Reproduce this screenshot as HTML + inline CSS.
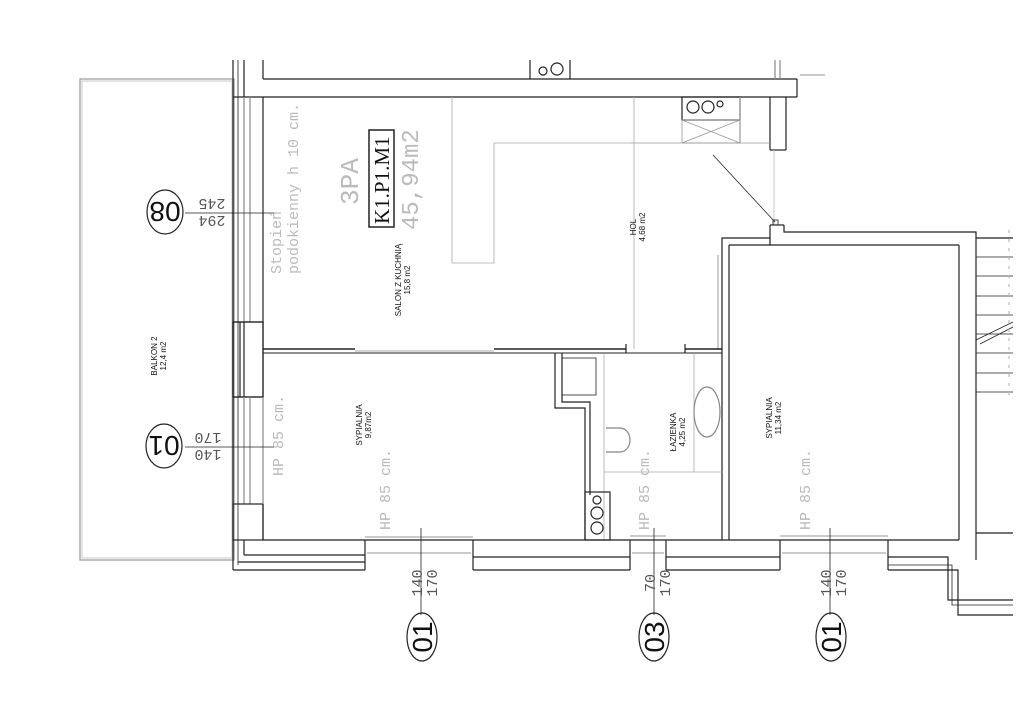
<!DOCTYPE html>
<html><head><meta charset="utf-8"><style>
html,body{margin:0;padding:0;background:#fff;}
svg{display:block;font-family:"Liberation Sans",sans-serif;}
</style></head><body>
<svg width="1024" height="724" viewBox="0 0 1024 724" xmlns="http://www.w3.org/2000/svg">
<g fill="none" stroke="#222" stroke-width="1.2">
<rect x="80" y="79" width="154" height="481" stroke="#999"/>
<rect x="82" y="81" width="150" height="477" stroke="#bbb" stroke-width="0.8"/>
<line x1="233" y1="60" x2="233" y2="570"/><line x1="238" y1="60" x2="238" y2="565" stroke-width="0.8"/><line x1="244" y1="60" x2="244" y2="97"/>
<line x1="263" y1="60" x2="263" y2="79"/>
<line x1="233" y1="97" x2="263" y2="97"/>
<line x1="244" y1="97" x2="244" y2="322" stroke="#888"/><line x1="250" y1="97" x2="250" y2="322" stroke="#888"/>
<line x1="263" y1="97" x2="263" y2="322"/>
<rect x="233" y="322" width="30" height="75" stroke-width="1.4"/>
<line x1="240" y1="322" x2="240" y2="397"/><line x1="244" y1="322" x2="244" y2="397"/>
<line x1="244" y1="397" x2="244" y2="504" stroke="#888"/><line x1="250" y1="397" x2="250" y2="504" stroke="#888"/>
<rect x="233" y="504" width="30" height="36"/>
<line x1="263" y1="397" x2="263" y2="504" stroke="#888"/>
<line x1="263" y1="504" x2="263" y2="540"/>
<line x1="263" y1="79" x2="797" y2="79"/><line x1="263" y1="97" x2="770" y2="97"/>
<line x1="797" y1="79" x2="797" y2="97"/><line x1="770" y1="97" x2="797" y2="97"/>
<line x1="770" y1="97" x2="770" y2="150"/><line x1="786" y1="97" x2="786" y2="150"/><line x1="770" y1="150" x2="786" y2="150"/>
<line x1="530" y1="60" x2="530" y2="79"/><line x1="570" y1="60" x2="570" y2="79"/>
<circle cx="543" cy="71" r="4"/><circle cx="557" cy="69" r="6"/>
<line x1="775" y1="60" x2="775" y2="79" stroke="#888"/><line x1="780" y1="60" x2="780" y2="79" stroke="#888"/>
<line x1="800" y1="75" x2="825" y2="75" stroke="#aaa"/>
<rect x="682" y="97" width="58" height="23"/>
<circle cx="693" cy="107" r="6"/><circle cx="708" cy="107" r="6"/><circle cx="720" cy="104" r="3"/>
<rect x="682" y="120" width="58" height="23" stroke="#999" stroke-width="0.8"/>
<line x1="682" y1="120" x2="740" y2="143" stroke="#999" stroke-width="0.8"/><line x1="740" y1="120" x2="682" y2="143" stroke="#999" stroke-width="0.8"/>
<line x1="740" y1="97" x2="740" y2="143" stroke="#999"/>
<line x1="630" y1="143" x2="770" y2="143" stroke="#999" stroke-width="0.8"/>
<polyline points="452,97 452,263 494,263 494,143 630,143" stroke="#aaa" stroke-width="0.8"/>
<line x1="634" y1="97" x2="634" y2="349" stroke="#aaa" stroke-width="0.8"/>
<line x1="774" y1="150" x2="774" y2="225" stroke="#bbb" stroke-width="0.8"/>
<line x1="713" y1="155" x2="775" y2="222" stroke-width="0.8"/>
<rect x="773" y="220" width="5" height="5" stroke-width="0.8"/>
<polyline points="770,225 770,238 722,238 722,540"/>
<polyline points="784,225 784,232 976,232 976,560"/>
<polyline points="770,225 784,225"/>
<line x1="729" y1="245" x2="729" y2="540"/>
<line x1="729" y1="245" x2="959" y2="245"/>
<line x1="959" y1="245" x2="959" y2="540"/>
<line x1="770" y1="238" x2="770" y2="245"/>
<line x1="718" y1="255" x2="718" y2="350" stroke="#aaa"/>
<line x1="976" y1="238" x2="1013" y2="238"/>
<line x1="976" y1="257" x2="1013" y2="257" stroke-width="0.8"/><line x1="976" y1="276" x2="1013" y2="276" stroke-width="0.8"/>
<line x1="976" y1="296" x2="1013" y2="296" stroke-width="0.8"/><line x1="976" y1="315" x2="1013" y2="315" stroke-width="0.8"/>
<line x1="976" y1="334" x2="1013" y2="334" stroke-width="0.8"/><line x1="976" y1="353" x2="1013" y2="353" stroke-width="0.8"/>
<line x1="976" y1="373" x2="1013" y2="373" stroke-width="0.8"/><line x1="976" y1="392" x2="1013" y2="392" stroke-width="0.8"/>
<line x1="976" y1="340" x2="1013" y2="322" stroke-width="0.8"/><line x1="980" y1="344" x2="1013" y2="327" stroke-width="0.8"/>
<line x1="1009" y1="230" x2="1009" y2="400" stroke="#bbb" stroke-dasharray="3 6"/>
<line x1="976" y1="533" x2="1013" y2="533"/>
<line x1="263" y1="349" x2="355" y2="349" stroke-width="1.6"/><line x1="263" y1="353" x2="722" y2="353" stroke-width="0.9"/>
<line x1="494" y1="349" x2="626" y2="349" stroke-width="1.6"/><line x1="685" y1="349" x2="722" y2="349" stroke-width="1.6"/>
<line x1="626" y1="344" x2="626" y2="353"/><line x1="685" y1="344" x2="685" y2="353"/>
<line x1="355" y1="351" x2="494" y2="351" stroke="#bbb"/>
<polyline points="555,353 555,408 585,408 585,540"/>
<polyline points="562,353 562,402 590,402 590,495"/>
<rect x="562" y="358" width="34" height="37" stroke-width="0.8"/>
<line x1="604" y1="353" x2="604" y2="540" stroke="#aaa" stroke-width="0.8"/>
<line x1="604" y1="472" x2="722" y2="472" stroke="#aaa" stroke-width="0.8"/>
<line x1="694" y1="353" x2="694" y2="472" stroke="#aaa" stroke-width="0.8"/>
<ellipse cx="707" cy="412" rx="13" ry="25" stroke="#888"/>
<path d="M606 428 h14 a10 12 0 0 1 0 24 h-14" stroke="#888"/>
<rect x="585" y="492" width="25" height="48"/>
<circle cx="597" cy="500" r="4"/><circle cx="597" cy="513" r="6"/><circle cx="597" cy="528" r="6"/>
<line x1="263" y1="540" x2="959" y2="540"/>
<line x1="244" y1="555" x2="365" y2="555"/><line x1="238" y1="562" x2="365" y2="562"/><line x1="233" y1="570" x2="365" y2="570"/>
<line x1="365" y1="540" x2="365" y2="570"/><line x1="473" y1="540" x2="473" y2="570"/>
<line x1="244" y1="540" x2="244" y2="555"/>
<line x1="367" y1="553" x2="471" y2="553" stroke="#aaa"/><line x1="365" y1="537" x2="473" y2="537" stroke="#aaa"/>
<line x1="473" y1="557" x2="630" y2="557"/><line x1="473" y1="570" x2="630" y2="570"/>
<line x1="630" y1="540" x2="630" y2="570"/><line x1="666" y1="540" x2="666" y2="570"/>
<line x1="632" y1="553" x2="664" y2="553" stroke="#aaa"/><line x1="630" y1="536" x2="666" y2="536" stroke="#aaa"/>
<line x1="666" y1="557" x2="780" y2="557"/><line x1="666" y1="570" x2="780" y2="570"/>
<line x1="780" y1="540" x2="780" y2="570"/><line x1="888" y1="540" x2="888" y2="570"/>
<line x1="782" y1="553" x2="886" y2="553" stroke="#aaa"/><line x1="780" y1="536" x2="888" y2="536" stroke="#aaa"/>
<polyline points="888,557 948,557 948,600 1013,600"/>
<polyline points="888,565 952,565 952,605 1013,605" stroke-width="0.8"/>
<polyline points="888,570 958,570 958,615 1013,615"/>
<line x1="185" y1="213" x2="275" y2="213" stroke-width="0.8"/>
<line x1="185" y1="447" x2="275" y2="447" stroke-width="0.8"/>
<line x1="421" y1="528" x2="421" y2="615" stroke-width="0.8"/>
<line x1="654" y1="528" x2="654" y2="615" stroke-width="0.8"/>
<line x1="830" y1="528" x2="830" y2="615" stroke-width="0.8"/>
<ellipse cx="165" cy="212" rx="18" ry="22"/>
<ellipse cx="164" cy="446" rx="18" ry="22"/>
<ellipse cx="422" cy="637" rx="15" ry="24"/>
<ellipse cx="654" cy="637" rx="15" ry="24"/>
<ellipse cx="831" cy="637" rx="15" ry="24"/>
<rect x="369" y="130" width="25" height="97" stroke-width="1.5"/>
</g>
<g font-size="28" fill="#111">
<text transform="translate(165,202) rotate(180)" text-anchor="middle">08</text>
<text transform="translate(164,436) rotate(180)" text-anchor="middle">01</text>
<text transform="translate(432,637) rotate(-90)" text-anchor="middle">01</text>
<text transform="translate(664,637) rotate(-90)" text-anchor="middle">03</text>
<text transform="translate(841,637) rotate(-90)" text-anchor="middle">01</text>
</g>
<g font-family="Liberation Mono,monospace" font-size="15" fill="#555">
<text transform="translate(212,199) rotate(180)" text-anchor="middle">245</text>
<text transform="translate(212,216) rotate(180)" text-anchor="middle">294</text>
<text transform="translate(208,433) rotate(180)" text-anchor="middle">170</text>
<text transform="translate(208,450) rotate(180)" text-anchor="middle">140</text>
<text transform="translate(422,583) rotate(-90)" text-anchor="middle">140</text>
<text transform="translate(437,583) rotate(-90)" text-anchor="middle">170</text>
<text transform="translate(655,583) rotate(-90)" text-anchor="middle">70</text>
<text transform="translate(670,583) rotate(-90)" text-anchor="middle">170</text>
<text transform="translate(831,583) rotate(-90)" text-anchor="middle">140</text>
<text transform="translate(846,583) rotate(-90)" text-anchor="middle">170</text>
</g>
<g font-family="Liberation Mono,monospace" font-size="15" fill="#bbb">
<text transform="translate(281,274) rotate(-90)">Stopień</text>
<text transform="translate(298,274) rotate(-90)">podokienny h 10 cm.</text>
<text transform="translate(283,476) rotate(-90)">HP 85 cm.</text>
<text transform="translate(390,530) rotate(-90)">HP 85 cm.</text>
<text transform="translate(649,530) rotate(-90)">HP 85 cm.</text>
<text transform="translate(810,530) rotate(-90)">HP 85 cm.</text>
<text transform="translate(358,205) rotate(-90)" font-size="26">3PA</text>
<text transform="translate(418,230) rotate(-90)" font-size="24">45,94m2</text>
</g>
<text transform="translate(389,224) rotate(-90)" font-family="Liberation Serif,serif" font-size="21" fill="#111">K1.P1.M1</text>
<g font-size="8" fill="#111">
<text transform="translate(157,356) rotate(-90)" text-anchor="middle">BALKON 2</text>
<text transform="translate(166,356) rotate(-90)" text-anchor="middle">12,4 m2</text>
<text transform="translate(401,280) rotate(-90)" text-anchor="middle">SALON Z KUCHNIĄ</text>
<text transform="translate(410,280) rotate(-90)" text-anchor="middle">15,8 m2</text>
<text transform="translate(636,227) rotate(-90)" text-anchor="middle">HOL</text>
<text transform="translate(645,227) rotate(-90)" text-anchor="middle">4,68 m2</text>
<text transform="translate(362,425) rotate(-90)" text-anchor="middle">SYPIALNIA</text>
<text transform="translate(371,425) rotate(-90)" text-anchor="middle">9,87m2</text>
<text transform="translate(676,432) rotate(-90)" text-anchor="middle">ŁAZIENKA</text>
<text transform="translate(685,432) rotate(-90)" text-anchor="middle">4,25 m2</text>
<text transform="translate(772,418) rotate(-90)" text-anchor="middle">SYPIALNIA</text>
<text transform="translate(781,418) rotate(-90)" text-anchor="middle">11,34 m2</text>
</g>
</svg>
</body></html>
